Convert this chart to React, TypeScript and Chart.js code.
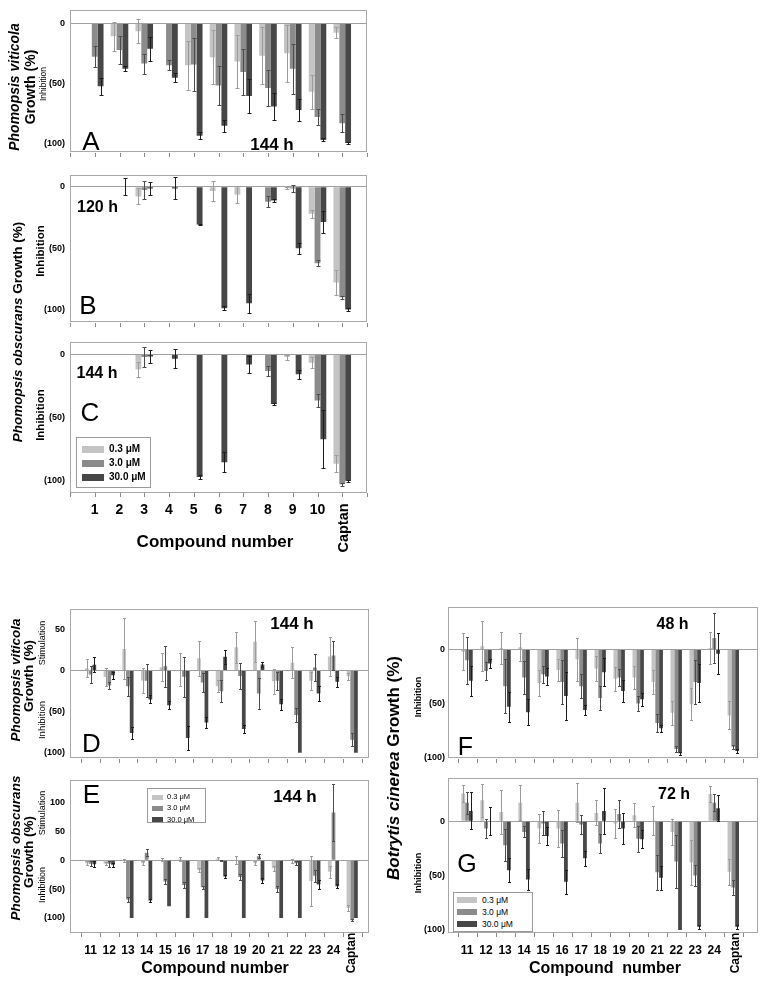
import React, { useEffect, useRef } from 'react';
import { Chart, registerables } from 'chart.js';

Chart.register(...registerables);

const FONT = '"Liberation Sans", Arial, Helvetica, sans-serif';

// ---------- categories / ticks ----------
const compoundsTop = ['1', '2', '3', '4', '5', '6', '7', '8', '9', '10', 'Captan'];
const compoundsBottom = ['11', '12', '13', '14', '15', '16', '17', '18', '19', '20', '21', '22', '23', '24', 'Captan'];
const doses = ['0.3 \u03bcM', '3.0 \u03bcM', '30.0 \u03bcM'];
const yTicksInhib = [0, -50, -100];
const yTicksD = [50, 0, -50, -100];
const yTicksE = [100, 50, 0, -50, -100];

// ---------- Panel A: Phomopsis viticola 144 h ----------
const aLow = [0, -10.8, -6.6, 0, -35, -28.3, -31.8, -27, -25, -57.2, -7.9];
const aLowErr = [0, 12, 10, 0, 20.6, 22.7, 22.4, 24, 24, 14.4, 4.5];
const aMid = [-27.8, -22.3, -33.6, -35, -34.4, -52, -40.7, -54, -38, -78.2, -83.5];
const aMidErr = [8.5, 12, 8.4, 4, 22, 16, 19, 15.4, 20.7, 7, 7.6];
const aHigh = [-52.5, -38, -21.3, -45.4, -94, -85.6, -60.6, -69.5, -72.4, -97.4, -100];
const aHighErr = [7, 2, 10, 4, 3, 5, 14.4, 11, 9.3, 1.3, 0.5];

// ---------- Panel B: Phomopsis obscurans 120 h ----------
const bLow = [0, 0, -7.8, 0, 0, -3.4, -6.5, 0, -0.8, -22, -78];
const bLowErr = [0, 0, 6.5, 0, 0, 8, 7, 0, 1, 3, 10];
const bMid = [0, 0, -2.6, 0, 0, 0, 0, -12.2, -1.3, -62.3, -90.1];
const bMidErr = [0, 0, 7, 0, 0, 0, 0, 4.5, 3, 2.6, 1];
const bHigh = [0, 0, -1.3, -1.3, -30.6, -99, -95, -11.2, -50, -28.6, -100];
const bHighErr = [0, 7, 5, 9, 0.5, 1.5, 8, 1.3, 4.5, 8.8, 1.5];

// ---------- Panel C: Phomopsis obscurans 144 h ----------
const cLow = [0, 0, -11.7, 0, 0, 0, 0, 0, -2, -6.5, -86.5];
const cLowErr = [0, 0, 6, 0, 0, 0, 0, 0, 2, 4.3, 6.8];
const cMid = [0, 0, -2, 0, 0, 0, 0, -13, 0, -36.4, -102.6];
const cMidErr = [0, 0, 8, 0, 0, 0, 0, 4.3, 0, 5.5, 1.3];
const cHigh = [0, 0, -1.6, -3.4, -96.9, -85.2, -7.8, -39.2, -15.6, -67, -100];
const cHighErr = [0, 0, 5.5, 7.5, 1.5, 7.8, 7, 1, 3.5, 23, 0.5];

// ---------- Panel D: Phomopsis viticola 144 h (11-24) ----------
const dLow = [3, -7.8, 26.4, -12, 4, 0.8, 15, -19, 28.5, 35, -13, 9.5, -12.5, 17, -7];
const dLowErr = [11, 10.5, 37, 15, 17, 20, 21, 7, 19, 25, 15, 19, 11, 24, 4];
const dMid = [-4.6, -18, -19, -12.4, 5.4, -7.5, -14.5, -25, -6.5, -28, -12.5, -54, 3.8, 18.5, -84];
const dMidErr = [10.5, 4, 11.5, 20, 25, 24, 11, 13, 16, 19, 11, 8, 16, 18, 8];
const dHigh = [7, -5.8, -76, -35, -42, -82, -63, 16.7, -71, 7.5, -41, -100, -28, -13.5, -100];
const dHighErr = [9, 4, 7.5, 5, 5, 15, 7, 8.5, 5, 3, 7, 0, 9, 6, 0];

// ---------- Panel E: Phomopsis obscurans 144 h (11-24) ----------
const eLow = [-5, -6, 0, -5, 1, 2, -17, 3, 1, -5, -14, -1, -36, -20, -83];
const eLowErr = [4, 3, 3, 4, 3, 4, 4, 2, 7, 3, 4, 4, 44, 10, 5];
const eMid = [-6, -6, -68, 13, -37, -43, -47, -1, -29, 7, -50, -5, -27, 83, -104];
const eMidErr = [4, 5, 5, 6, 5, 6, 3, 1, 5, 3, 5, 3, 10, 50, 2];
const eHigh = [-7, -8, -100, -70, -80, -100, -100, -28, -100, -35, -100, -100, -42, -45, -100];
const eHighErr = [5, 3, 0, 3, 0, 0, 0, 2, 0, 4, 0, 0, 8, 4, 0];

// ---------- Panel F: Botrytis cinerea 48 h ----------
const fLow = [-2, 3, 1.5, 2, -31, -19, -9, -17.6, -27, -26, -30, -58.5, -50.6, 1.5, -61];
const fLowErr = [17, 23, 15, 13, 12, 10, 20, 12, 11, 11, 11, 11, 15, 15, 13];
const fMid = [-10, -20, -34, -26, -23, -30, -34, -45, -26, -50, -68, -92, -30, 10.6, -90];
const fMidErr = [22, 8, 25, 15, 8, 20, 11, 11, 8, 7, 8, 3, 20, 23, 2];
const fHigh = [-29, -13, -53, -58, -25, -43, -56, -21, -38.5, -46, -73, -96, -31, -4, -94];
const fHighErr = [14, 4, 14, 12, 8, 22, 5, 13, 10, 6, 3, 1.5, 18, 19, 2];

// ---------- Panel G: Botrytis cinerea 72 h ----------
const gLow = [25.4, 19.3, 8.6, 17, -6.7, -6.7, 17, 7.6, -2, 5.5, 0.6, -10, -38, 25, -46.5];
const gLowErr = [7.6, 15, 20, 16, 13, 17, 18, 11.5, 13, 11, 13, 12, 21, 7.5, 12];
const gMid = [17, -6.7, -22, -9.8, -2, -20.5, -3, -20.5, 6.7, -16, -47, -37, -50, 17, -61];
const gMidErr = [10, 9, 15, 5, 11, 12, 9, 9, 13, 12, 16, 24, 10, 8, 7];
const gHigh = [9.5, 0, -45, -53.5, -13.5, -55.7, -34, 9.5, -6.7, -16.5, -52, -100, -97, 12, -97];
const gHighErr = [17, 13, 11, 10, 8, 11, 7, 21, 14, 8, 11, 0, 2, 12, 2];

const BAR_COLORS = ['#c4c4c4', '#8b8b8b', '#474747'];
const ERR_COLORS = ['#9c9c9c', '#4c4c4c', '#1c1c1c'];

type Spec = {
  left: number; top: number; width: number; height: number;
  padTop: number; padRight: number; yAxisW: number; xAxisH: number;
  xMin: number; xMax: number; yMin: number; yMax: number;
  yTicks: number[]; yFont: number; yPad: number;
  labels: string[]; showX: boolean; xFont: number; xPad: number;
  marksBetween: boolean; catPct: number; cap: number;
  series: number[][]; errors: number[][];
};

function Panel({ spec }: { spec: Spec }) {
  const ref = useRef<HTMLCanvasElement>(null);
  useEffect(() => {
    const s = spec;
    const tickMarks = s.marksBetween
      ? [...s.labels.map((_, i) => i + 0.5), s.labels.length + 0.5]
      : [0, ...s.labels.map((_, i) => i + 1), s.labels.length + 1];
    const decor = {
      id: 'decor',
      afterDatasetsDraw(chart: any) {
        const { ctx, chartArea: a } = chart;
        const xs = chart.scales.x;
        const ys = chart.scales.y;
        ctx.save();
        ctx.lineWidth = 1;
        chart.data.datasets.forEach((ds: any, k: number) => {
          const meta = chart.getDatasetMeta(k);
          meta.data.forEach((el: any, i: number) => {
            const e = ds.errors[i];
            if (!e) return;
            const v = ds.data[i].y;
            const yt = Math.round(ys.getPixelForValue(v + e)) + 0.5;
            const yb = Math.round(ys.getPixelForValue(v - e)) + 0.5;
            const cx = Math.round(el.x) + 0.5;
            ctx.strokeStyle = ERR_COLORS[k];
            ctx.beginPath();
            ctx.moveTo(cx, yt);
            ctx.lineTo(cx, yb);
            ctx.moveTo(cx - s.cap, yt);
            ctx.lineTo(cx + s.cap, yt);
            ctx.moveTo(cx - s.cap, yb);
            ctx.lineTo(cx + s.cap, yb);
            ctx.stroke();
          });
        });
        ctx.strokeStyle = '#a8a8a8';
        ctx.strokeRect(
          Math.round(a.left) + 0.5,
          Math.round(a.top) + 0.5,
          Math.round(a.right - a.left) - 1,
          Math.round(a.bottom - a.top) - 1
        );
        ctx.strokeStyle = '#8a8a8a';
        ctx.beginPath();
        tickMarks.forEach((t) => {
          const px = Math.round(xs.getPixelForValue(t)) + 0.5;
          ctx.moveTo(px, Math.round(a.bottom));
          ctx.lineTo(px, Math.round(a.bottom) + 4);
        });
        ctx.stroke();
        ctx.restore();
      },
    };

    const datasets = s.series.map((vals, k) => ({
      label: doses[k],
      data: vals.map((v, i) => ({ x: i + 1, y: v })),
      backgroundColor: BAR_COLORS[k],
      borderWidth: 0,
      categoryPercentage: s.catPct,
      barPercentage: 1,
      errors: s.errors[k],
    }));

    const chart = new Chart(ref.current as HTMLCanvasElement, {
      type: 'bar',
      data: { datasets } as any,
      options: {
        responsive: false,
        animation: false,
        devicePixelRatio: 1,
        layout: { padding: { top: s.padTop, right: s.padRight, left: 0, bottom: 0 } },
        plugins: { legend: { display: false }, tooltip: { enabled: false } },
        scales: {
          x: {
            type: 'linear',
            min: s.xMin,
            max: s.xMax,
            offset: false,
            grid: { display: false, drawTicks: false },
            border: { display: false },
            afterBuildTicks: (ax: any) => {
              ax.ticks = s.labels.map((_, i) => ({ value: i + 1 }));
            },
            afterFit: (ax: any) => {
              ax.height = s.xAxisH;
            },
            ticks: {
              display: s.showX,
              autoSkip: false,
              maxRotation: 0,
              minRotation: 0,
              padding: s.xPad,
              color: '#000',
              font: { family: FONT, size: s.xFont, weight: 'bold' },
              callback: (v: any) => {
                const lab = s.labels[Math.round(Number(v)) - 1];
                return lab === 'Captan' ? '' : lab;
              },
            },
          },
          y: {
            type: 'linear',
            min: s.yMin,
            max: s.yMax,
            grid: {
              drawTicks: false,
              lineWidth: 1,
              color: (c: any) => (c.tick && c.tick.value === 0 ? '#a0a0a0' : 'rgba(0,0,0,0)'),
            },
            border: { display: false },
            afterBuildTicks: (ax: any) => {
              ax.ticks = s.yTicks.map((v) => ({ value: v }));
            },
            afterFit: (ax: any) => {
              ax.width = s.yAxisW;
            },
            ticks: {
              padding: s.yPad,
              color: '#000',
              font: { family: FONT, size: s.yFont, weight: 'bold' },
              callback: (v: any) => (Number(v) < 0 ? '(' + -Number(v) + ')' : String(v)),
            },
          },
        },
      } as any,
      plugins: [decor],
    });
    return () => chart.destroy();
  }, [spec]);
  return (
    <canvas
      ref={ref}
      width={spec.width}
      height={spec.height}
      style={{ position: 'absolute', left: spec.left, top: spec.top, width: spec.width, height: spec.height }}
    />
  );
}

function Txt(props: {
  x: number; y: number; size: number; bold?: boolean; rot?: boolean; pre?: boolean; children: React.ReactNode;
}) {
  return (
    <div
      style={{
        position: 'absolute',
        left: props.x,
        top: props.y,
        transform: 'translate(-50%, -50%)' + (props.rot ? ' rotate(-90deg)' : ''),
        fontFamily: FONT,
        fontSize: props.size,
        fontWeight: props.bold === false ? 'normal' : 'bold',
        whiteSpace: props.pre ? 'pre' : 'nowrap',
        lineHeight: 1,
        color: '#000',
      }}
    >
      {props.children}
    </div>
  );
}

function Legend(props: {
  x0: number; y0: number; x1: number; y1: number; rows: number[]; swX: number; swW: number; swH: number;
  textX: number; size: number; bold: boolean;
}) {
  return (
    <>
      <div
        style={{
          position: 'absolute',
          left: props.x0,
          top: props.y0,
          width: props.x1 - props.x0,
          height: props.y1 - props.y0,
          border: '1px solid #9a9a9a',
          boxSizing: 'border-box',
          background: '#fff',
        }}
      />
      {doses.map((d, k) => (
        <React.Fragment key={d}>
          <div
            style={{
              position: 'absolute',
              left: props.swX,
              top: props.rows[k] - props.swH / 2,
              width: props.swW,
              height: props.swH,
              background: BAR_COLORS[k],
            }}
          />
          <div
            style={{
              position: 'absolute',
              left: props.textX,
              top: props.rows[k],
              transform: 'translateY(-50%)',
              fontFamily: FONT,
              fontSize: props.size,
              fontWeight: props.bold ? 'bold' : 'normal',
              lineHeight: 1,
              whiteSpace: 'nowrap',
              color: '#000',
            }}
          >
            {d}
          </div>
        </React.Fragment>
      ))}
    </>
  );
}

const baseTop = {
  left: 20, width: 349, padRight: 2, yAxisW: 50, xMin: 0, xMax: 12,
  yTicks: yTicksInhib, yFont: 9, yPad: 5, labels: compoundsTop, xFont: 14, xPad: 9,
  marksBetween: false, catPct: 0.71, cap: 2,
};
const baseBL = {
  left: 20, width: 352, padRight: 3, yAxisW: 50, xMin: -0.1, xMax: 15.9,
  yFont: 9, yPad: 5, labels: compoundsBottom, xFont: 12, xPad: 10,
  marksBetween: true, catPct: 0.6, cap: 1.5,
};
const baseBR = {
  left: 400, width: 361, padRight: 3, yAxisW: 48, xMin: 0, xMax: 16.3,
  yTicks: yTicksInhib, yFont: 9, yPad: 3, labels: compoundsBottom, xFont: 12, xPad: 10,
  marksBetween: true, catPct: 0.6, cap: 1.5,
};

const specA: Spec = {
  ...baseTop, top: 0, height: 163, padTop: 7, xAxisH: 6, yMin: -108, yMax: 10.85, showX: false,
  series: [aLow, aMid, aHigh], errors: [aLowErr, aMidErr, aHighErr],
};
const specB: Spec = {
  ...baseTop, top: 165, height: 168, padTop: 8, xAxisH: 6, yMin: -110.7, yMax: 9.35, showX: false,
  series: [bLow, bMid, bHigh], errors: [bLowErr, bMidErr, bHighErr],
};
const specC: Spec = {
  ...baseTop, top: 332, height: 191, padTop: 8, xAxisH: 30, yMin: -109.6, yMax: 9.6, showX: true,
  series: [cLow, cMid, cHigh], errors: [cLowErr, cMidErr, cHighErr],
};
const specD: Spec = {
  ...baseBL, top: 599, height: 170, padTop: 8, xAxisH: 6, yMin: -107, yMax: 74.4, yTicks: yTicksD, showX: false,
  series: [dLow, dMid, dHigh], errors: [dLowErr, dMidErr, dHighErr],
};
const specE: Spec = {
  ...baseBL, top: 770, height: 193, padTop: 8, xAxisH: 30, yMin: -126.2, yMax: 138.5, yTicks: yTicksE, showX: true,
  series: [eLow, eMid, eHigh], errors: [eLowErr, eMidErr, eHighErr],
};
const specF: Spec = {
  ...baseBR, top: 599, height: 168, padTop: 8, xAxisH: 6, yMin: -101, yMax: 39, showX: false,
  series: [fLow, fMid, fHigh], errors: [fLowErr, fMidErr, fHighErr],
};
const specG: Spec = {
  ...baseBR, top: 770, height: 193, padTop: 8, xAxisH: 30, yMin: -102.8, yMax: 39.4, showX: true,
  series: [gLow, gMid, gHigh], errors: [gLowErr, gMidErr, gHighErr],
};

export default function App() {
  return (
    <div style={{ position: 'absolute', left: 0, top: 0, width: 762, height: 987, background: '#fff', overflow: 'hidden' }}>
      <Panel spec={specA} />
      <Panel spec={specB} />
      <Panel spec={specC} />
      <Panel spec={specD} />
      <Panel spec={specE} />
      <Panel spec={specF} />
      <Panel spec={specG} />

      {/* Panel A texts */}
      <Txt x={14} y={87} size={14} rot><i>Phomopsis viticola</i></Txt>
      <Txt x={30} y={87} size={14} rot>Growth (%)</Txt>
      <Txt x={43} y={84} size={8.5} bold={false} rot>Inhibition</Txt>
      <Txt x={91} y={141} size={26} bold={false}>A</Txt>
      <Txt x={272} y={144} size={17}>144 h</Txt>

      {/* Panels B & C texts */}
      <Txt x={17.5} y={332} size={13.5} rot><i>Phomopsis obscurans</i> Growth (%)</Txt>
      <Txt x={41} y={251} size={11.5} rot>Inhibition</Txt>
      <Txt x={88} y={305} size={26} bold={false}>B</Txt>
      <Txt x={97.5} y={206.5} size={16}>120 h</Txt>
      <Txt x={40.5} y={415} size={11.5} rot>Inhibition</Txt>
      <Txt x={90} y={412} size={26} bold={false}>C</Txt>
      <Txt x={97} y={373} size={16}>144 h</Txt>
      <Txt x={215} y={541} size={17}>Compound number</Txt>
      <Txt x={343} y={528} size={14.5} rot>Captan</Txt>
      <Legend x0={76} y0={437} x1={151} y1={488} rows={[449, 463, 477]} swX={82} swW={22} swH={7} textX={109} size={10} bold />

      {/* Panel D texts */}
      <Txt x={15.5} y={680} size={13.5} rot><i>Phomopsis viticola</i></Txt>
      <Txt x={29} y={676} size={13.5} rot>Growth (%)</Txt>
      <Txt x={41.5} y={643} size={9} bold={false} rot>Stimulation</Txt>
      <Txt x={41.5} y={720} size={9.5} bold={false} rot>Inhibition</Txt>
      <Txt x={91.5} y={743} size={26} bold={false}>D</Txt>
      <Txt x={292} y={622.5} size={17}>144 h</Txt>

      {/* Panel E texts */}
      <Txt x={15.5} y={848} size={13.5} rot><i>Phomopsis obscurans</i></Txt>
      <Txt x={29} y={852} size={13.5} rot>Growth (%)</Txt>
      <Txt x={41.5} y={813} size={9} bold={false} rot>Stimulation</Txt>
      <Txt x={41.5} y={885} size={9} bold={false} rot>Inhibition</Txt>
      <Txt x={91.5} y={794} size={26} bold={false}>E</Txt>
      <Txt x={295} y={796} size={17}>144 h</Txt>
      <Txt x={215} y={968} size={16}>Compound number</Txt>
      <Txt x={350.5} y={953} size={12} rot>Captan</Txt>
      <Legend x0={147} y0={788} x1={206} y1={823} rows={[797, 808, 819.5]} swX={152} swW={11} swH={5} textX={167} size={7.5} bold={false} />

      {/* Panels F & G texts */}
      <Txt x={393} y={768} size={17} rot><i>Botrytis cinerea</i> Growth (%)</Txt>
      <Txt x={417.5} y={697} size={9} rot>Inhibition</Txt>
      <Txt x={672.5} y={624} size={16}>48 h</Txt>
      <Txt x={465.5} y={746} size={25} bold={false}>F</Txt>
      <Txt x={417.5} y={873} size={9} rot>Inhibition</Txt>
      <Txt x={674} y={794} size={16}>72 h</Txt>
      <Txt x={467} y={863} size={25} bold={false}>G</Txt>
      <Txt x={605} y={968} size={16} pre>Compound  number</Txt>
      <Txt x={735} y={953} size={12} rot>Captan</Txt>
      <Legend x0={453} y0={892} x1={533} y1={932} rows={[900, 912, 924]} swX={457} swW={20} swH={6} textX={482} size={8.5} bold={false} />
    </div>
  );
}
